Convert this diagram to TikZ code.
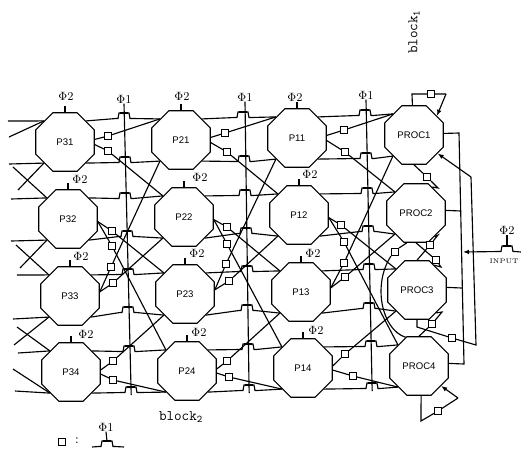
\documentclass[tikz,border=0pt]{standalone}
\usepackage{amsmath, amssymb}
\usepackage{fontspec}
\setsansfont{Liberation Sans}
\usepackage{tikz}
\usetikzlibrary{shapes.geometric, arrows.meta}

\tikzset{
  octa/.style={draw, regular polygon, regular polygon sides=8, minimum size=47.5pt,
    inner sep=0pt, font=\fontsize{7.2}{8}\selectfont\sffamily},
  sq/.style={draw, fill=white, minimum size=5.2pt, inner sep=0pt},
  phi/.style={inner sep=0pt, font=\small},
  tip/.style={-{Latex[length=4.5pt,width=3.5pt]}},
  pulse/.pic={
    \draw (-8,5.5) -- (-6,5.5) -- (-5,0) -- (5,0) -- (6,5.5) -- (8,5.5);
    \draw[line width=1.6pt] (-4,0) -- (4,0);
    \coordinate (-l) at (-8,5.5);
    \coordinate (-r) at (8,5.5);
    \coordinate (-g) at (0,0);
  }
}

\begin{document}
\begin{tikzpicture}[x=0.75pt, y=-0.75pt, line width=0.85pt]
  \useasboundingbox (0,0) rectangle (521,451);

  % Processors
  \foreach \n/\x/\y in {P31/65/142, P32/68/219, P33/70/296, P34/71/372,
      P21/181/140, P22/184/217, P23/185/294, P24/187/371,
      P11/297/138, P12/299/215, P13/301/292, P14/303/368,
      PROC1/414/135, PROC2/416/213, PROC3/417/290, PROC4/419/366}
    \node[octa] (\n) at (\x,\y) {\n};

  % Squares
  \foreach \q/\x/\y in {q11/108/136, q12/108/151, q13/112/231, q14/112/246,
      q15/111/267, q16/113/283, q17/113/361, q18/113/380,
      q21/225/133, q22/227/152, q23/227/227, q24/227/244,
      q25/226/264, q26/229/281, q27/227/361, q28/229/377,
      q31/344/130, q32/345/152, q33/341/225, q34/344/242,
      q35/344/263, q36/345/277, q37/345/354, q38/353/376,
      qa/431/94, qb/427/177, qc/436/260, qd/430/245, qe/395/252,
      qf/432/324, qg/452/338, qh/438/411, qleg/62/442}
    \node[sq] (\q) at (\x,\y) {};

  % Transistors on the wires
  \foreach \t/\x/\y in {t11/124/113, t12/125/157, t13/125/193, t14/127/231,
      t15/128/269, t16/128/307, t17/129/346, t18/131/387,
      t21/243/112, t22/244/156, t23/245/190, t24/246/228,
      t25/247/266, t26/247/305, t27/248/344, t28/249/385,
      t31/365/110, t32/366/153, t33/367/188, t34/368/226,
      t35/369/264, t36/369/303, t37/371/341, t38/372/383,
      tin/507/246, tleg/107/441}
    \pic (\t) at (\x,\y) {pulse};

  % Wires through the transistors
  \foreach \a/\u/\d/\b in {P31/t11/t12/P21, P32/t13/t14/P22, P33/t15/t16/P23, P34/t17/t18/P24,
      P21/t21/t22/P11, P22/t23/t24/P12, P23/t25/t26/P13, P24/t27/t28/P14,
      P11/t31/t32/PROC1, P12/t33/t34/PROC2, P13/t35/t36/PROC3, P14/t37/t38/PROC4} {
    \draw (\a.45) -- (\u-l);
    \draw (\u-r) -- (\b.135);
    \draw (\a.315) -- (\d-l);
    \draw (\d-r) -- (\b.225);
  }

  % Diagonals through the squares
  \foreach \a/\i/\q/\b/\j in {P31/5/q11/P21/135, P31/-5/q12/P22/135,
      P32/-5/q13/P23/135, P32/-5/q14/P24/135,
      P33/8/q15/P21/225, P33/8/q16/P22/225,
      P34/4/q17/P23/225, P34/-4/q18/P24/225,
      P21/5/q21/P11/135, P21/-5/q22/P12/135,
      P22/-5/q23/P13/135, P22/-5/q24/P14/135,
      P23/8/q25/P11/225, P23/8/q26/P12/225,
      P24/4/q27/P13/225, P24/-4/q28/P14/225,
      P11/5/q31/PROC1/135, P11/-5/q32/PROC2/135,
      P12/-5/q33/PROC3/135, P12/-5/q34/PROC4/135,
      P13/8/q35/PROC1/225, P13/8/q36/PROC2/225,
      P14/4/q37/PROC3/225, P14/-4/q38/PROC4/225}
    \draw (\a.\i) -- (\q) -- (\b.\j);

  % Wires entering from the left
  \foreach \k/\n/\a/\x/\y in {1/P31/135/8/121, 2/P31/135/9/137, 3/P31/225/9/164, 4/P31/225/18/190,
      5/P32/135/11/199, 6/P32/135/13/167, 7/P32/225/11/241, 8/P32/225/20/268,
      9/P33/135/17/275, 10/P33/135/16/245, 11/P33/225/13/319, 12/P33/225/14/345,
      13/P34/135/18/353, 14/P34/135/17/327, 15/P34/225/15/391, 16/P34/225/13/369} {
    \coordinate (in\k) at (\x,\y);
    \draw (\n.\a) -- (in\k);
  }

  % Clock labels
  \foreach \g/\n/\x/\y in {g31/P31/66/96, g32/P32/80/179, g33/P33/81/256, g34/P34/86/334,
      g21/P21/182/96, g22/P22/200/177, g23/P23/197/253, g24/P24/199/332,
      g11/P11/295/97, g12/P12/310/174, g13/P13/313/253, g14/P14/316/330} {
    \node[phi] (\g) at (\x,\y) {$\Phi$2};
    \draw (\n.90) -- ++(0,-6);
  }
  \node[phi] (f1) at (124,99) {$\Phi$1};
  \node[phi] (f2) at (245,97) {$\Phi$1};
  \node[phi] (f3) at (366,95) {$\Phi$1};
  \draw (f1.south) -- (t18-g) -- ++(0.2,8);
  \draw (f2.south) -- (t28-g) -- ++(0.2,8);
  \draw (f3.south) -- (t38-g) -- ++(0.2,8);

  % Self loops of PROC1 and PROC4
  \coordinate (la) at (412,94);
  \coordinate (lb) at (446,94);
  \draw (PROC1.93) -- (la) -- (qa) -- (lb);
  \draw[tip] (lb) -- (PROC1.40);
  \coordinate (lc) at (421,421);
  \coordinate (ld) at (458,398);
  \draw (PROC4.-86) -- (lc) -- (qh) -- (ld);
  \draw[tip] (ld) -- (PROC4.-42);

  % Between neighbouring PROCs
  \coordinate (ha) at (438,188);
  \coordinate (hb) at (441,267);
  \coordinate (hc) at (438,235);
  \coordinate (hd) at (442,312);
  \draw (PROC1.270) -- (qb) -- (ha) -- (PROC2.58);
  \draw (PROC2.270) -- (qc) -- (hb) -- (PROC3.55);
  \draw (PROC3.90) -- (qd) -- (hc) -- (PROC2.-52);
  \draw (PROC4.90) -- (qf) -- (hd) -- (PROC3.-50);
  \draw (PROC2.-107) -- (qe.north east);
  \draw (qe.south west) .. controls (372,285) and (382,330) .. (PROC4.115);

  % Bus on the right
  \coordinate (ba) at (459,133);
  \coordinate (bb) at (461,211);
  \coordinate (bc) at (462,288);
  \coordinate (bd) at (464,364);
  \draw (PROC1.3) -- (ba) -- (bd) -- (PROC4.5);
  \draw (PROC2.5) -- (bb);
  \draw (PROC3.5) -- (bc);

  % Return line to PROC1
  \coordinate (ra) at (417,327);
  \coordinate (rb) at (476,345);
  \coordinate (rc) at (471,177);
  \draw (PROC3.-90) -- (ra) -- (qg) -- (rb) -- (rc);
  \draw[tip] (rc) -- (PROC1.-38);

  % Input
  \coordinate (ia) at (463,252);
  \coordinate (ib) at (521,252);
  \node[phi] (g0) at (507,230) {$\Phi$2};
  \draw (g0.south) -- (tin-g);
  \draw[tip] (tin-l) -- (ia);
  \draw (tin-r) -- (ib);
  \node[inner sep=0pt, anchor=east, font=\fontsize{5}{6}\selectfont] (inp) at (519,261) {INPUT};

  % Block labels
  \node[inner sep=0pt, rotate=90, font=\fontsize{11}{12}\selectfont\ttfamily] (b1) at (414,32) {block$_{\mathtt{1}}$};
  \node[inner sep=0pt, font=\fontsize{11}{12}\selectfont\ttfamily] (b2) at (181,417) {block$_{\mathtt{2}}$};

  % Legend
  \node[inner sep=0pt] (col) at (77,441) {:};
  \node[phi] (f0) at (106,427) {$\Phi$1};
  \coordinate (lg1) at (92,447);
  \coordinate (lg2) at (124,447);
  \draw (f0.south) -- (tleg-g);
  \draw (lg1) -- (tleg-l);
  \draw (tleg-r) -- (lg2);
\end{tikzpicture}
\end{document}
